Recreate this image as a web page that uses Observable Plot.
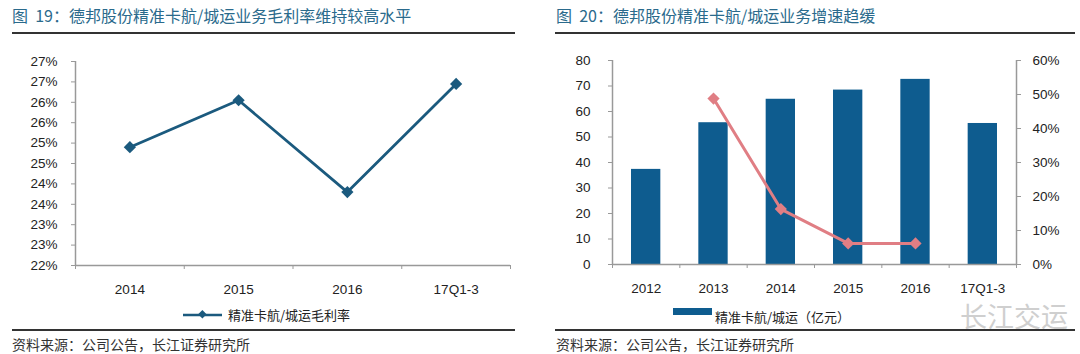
<!DOCTYPE html>
<html><head><meta charset="utf-8">
<script src="https://cdn.jsdelivr.net/npm/d3@7"></script>
<script src="https://cdn.jsdelivr.net/npm/@observablehq/plot@0.6"></script>
<style>
body{margin:0;background:#fff;font-family:"Liberation Sans",Arial,"Noto Sans CJK SC",sans-serif;}
#wrap{position:relative;width:1080px;height:354px;overflow:hidden;background:#fff;}
.abs{position:absolute;}
.title{font-size:16px;line-height:18px;color:#2a6a8c;font-family:"Noto Sans CJK SC",sans-serif;white-space:nowrap;}
.rule{height:2px;background:#333;}
.src{font-size:14px;line-height:15px;color:#333;font-family:"Noto Sans CJK SC",sans-serif;white-space:nowrap;}
.leg{font-size:13px;line-height:15px;color:#222;font-family:"Noto Sans CJK SC",sans-serif;white-space:nowrap;}
.wm{font-size:27px;line-height:28px;color:#cfcfcf;font-family:"Noto Sans CJK SC",sans-serif;white-space:nowrap;}
</style></head>
<body>
<div id="wrap">
  <div class="abs title" style="left:12px;top:6px">图&nbsp; 19：德邦股份精准卡航/城运业务毛利率维持较高水平</div>
  <div class="abs rule" style="left:12px;top:32px;width:503px"></div>
  <div class="abs title" style="left:556px;top:6px">图&nbsp; 20：德邦股份精准卡航/城运业务增速趋缓</div>
  <div class="abs rule" style="left:555px;top:32px;width:520px"></div>

  <div id="c1" class="abs" style="left:0;top:0"></div>
  <div id="c2" class="abs" style="left:540px;top:0"></div>
  <div id="c3" class="abs" style="left:540px;top:0"></div>

  <svg class="abs" style="left:180px;top:308px" width="46" height="14">
    <line x1="3" y1="7" x2="42" y2="7" stroke="#1b5a7e" stroke-width="2.5"/>
    <rect x="19" y="3" width="6" height="6" fill="#1b5a7e" transform="rotate(45 22 6.5)"/>
  </svg>
  <div class="abs leg" style="left:228px;top:307px">精准卡航/城运毛利率</div>

  <div class="abs" style="left:673px;top:308px;width:39px;height:7px;background:#0e5c8f"></div>
  <div class="abs leg" style="left:715px;top:309px">精准卡航/城运（亿元）</div>
  <div class="abs wm" style="left:960px;top:302px">长江交运</div>

  <div class="abs rule" style="left:12px;top:329px;width:503px"></div>
  <div class="abs src" style="left:12px;top:337px">资料来源：公司公告，长江证券研究所</div>
  <div class="abs rule" style="left:555px;top:329px;width:520px"></div>
  <div class="abs src" style="left:556px;top:337px">资料来源：公司公告，长江证券研究所</div>
</div>
<script>
// ---- Chart 19 data ----
const marginCats = ["2014", "2015", "2016", "17Q1-3"];
const marginValues = [24.9, 26.05, 23.8, 26.45];
const marginTicks = [22, 22.5, 23, 23.5, 24, 24.5, 25, 25.5, 26, 26.5, 27];

// ---- Chart 20 data ----
const volCats = ["2012", "2013", "2014", "2015", "2016", "17Q1-3"];
const volValues = [37.3, 55.6, 64.8, 68.4, 72.6, 55.3];
const growthCats = ["2013", "2014", "2015", "2016"];
const growthValues = [0.488, 0.163, 0.062, 0.062];
const volTicks = [0, 10, 20, 30, 40, 50, 60, 70, 80];
const growthTicks = [0, 0.1, 0.2, 0.3, 0.4, 0.5, 0.6];

const axisGray = "#999";
const textColor = "#222";
const font = {fontFamily: "'Liberation Sans', Arial, sans-serif", fontSize: "13.5px", color: textColor, background: "transparent", overflow: "visible"};

// Chart 19
const d1 = marginCats.map((c, i) => ({i, c, v: marginValues[i]}));
const bounds1 = marginCats.map((c, i) => i - 0.5).concat([marginCats.length - 0.5]);
const p1 = Plot.plot({
  width: 540, height: 300,
  marginTop: 61, marginBottom: 35, marginLeft: 75, marginRight: 30,
  style: font,
  x: {domain: [-0.5, marginCats.length - 0.5], label: null},
  y: {domain: [22, 27], label: null},
  marks: [
    Plot.ruleX([-0.5], {stroke: axisGray, strokeWidth: 1.5}),
    Plot.ruleY([22], {stroke: axisGray, strokeWidth: 1.5}),
    Plot.axisY(marginTicks, {tickSize: 4, tickPadding: 14, tickFormat: d => Math.round(d) + "%", stroke: axisGray, fill: textColor, label: null}),
    Plot.axisX(bounds1, {tickSize: 4, tickFormat: () => "", stroke: axisGray, label: null}),
    Plot.axisX(d1.map(d => d.i), {tickSize: 0, tickPadding: 19, tickFormat: i => marginCats[i], fill: textColor, label: null}),
    Plot.line(d1, {x: "i", y: "v", stroke: "#1b5a7e", strokeWidth: 2.8}),
    Plot.dot(d1, {x: "i", y: "v", symbol: "diamond2", r: 5.5, fill: "#1b5a7e", stroke: "none"})
  ]
});
document.getElementById("c1").appendChild(p1);

// Chart 20 - bars + left axis
const d2 = volCats.map((c, i) => ({i, c, v: volValues[i]}));
const bounds2 = volCats.map((c, i) => i - 0.5).concat([volCats.length - 0.5]);
const common2 = {
  width: 540, height: 300,
  marginTop: 60, marginBottom: 36, marginLeft: 72, marginRight: 64,
  style: font
};
const p2 = Plot.plot({
  ...common2,
  x: {domain: [-0.5, volCats.length - 0.5], label: null},
  y: {domain: [0, 80], label: null},
  marks: [
    Plot.rectY(d2, {x1: d => d.i - 0.5, x2: d => d.i + 0.5, y: "v", fill: "#0e5c8f", insetLeft: 19, insetRight: 19}),
    Plot.ruleX([-0.5], {stroke: axisGray, strokeWidth: 1.5}),
    Plot.ruleX([volCats.length - 0.5], {stroke: axisGray, strokeWidth: 1.5}),
    Plot.ruleY([0], {stroke: axisGray, strokeWidth: 1.5}),
    Plot.axisY(volTicks, {tickSize: 4, tickPadding: 18, stroke: axisGray, fill: textColor, label: null}),
    Plot.axisX(bounds2, {tickSize: 4, tickFormat: () => "", stroke: axisGray, label: null}),
    Plot.axisX(d2.map(d => d.i), {tickSize: 0, tickPadding: 19, tickFormat: i => volCats[i], fill: textColor, label: null})
  ]
});
document.getElementById("c2").appendChild(p2);

// Chart 20 - growth line + right axis
const d3g = growthCats.map((c, k) => ({i: volCats.indexOf(c), c, v: growthValues[k]}));
const p3 = Plot.plot({
  ...common2,
  x: {domain: [-0.5, volCats.length - 0.5], label: null, axis: null},
  y: {domain: [0, 0.6], label: null},
  marks: [
    Plot.axisY(growthTicks, {anchor: "right", tickSize: 4, tickPadding: 12, tickFormat: d => Math.round(d * 100) + "%", stroke: axisGray, fill: textColor, label: null}),
    Plot.line(d3g, {x: "i", y: "v", stroke: "#e07e84", strokeWidth: 3}),
    Plot.dot(d3g, {x: "i", y: "v", symbol: "diamond2", r: 5.5, fill: "#e07e84", stroke: "none"})
  ]
});
document.getElementById("c3").appendChild(p3);
</script>
</body></html>
